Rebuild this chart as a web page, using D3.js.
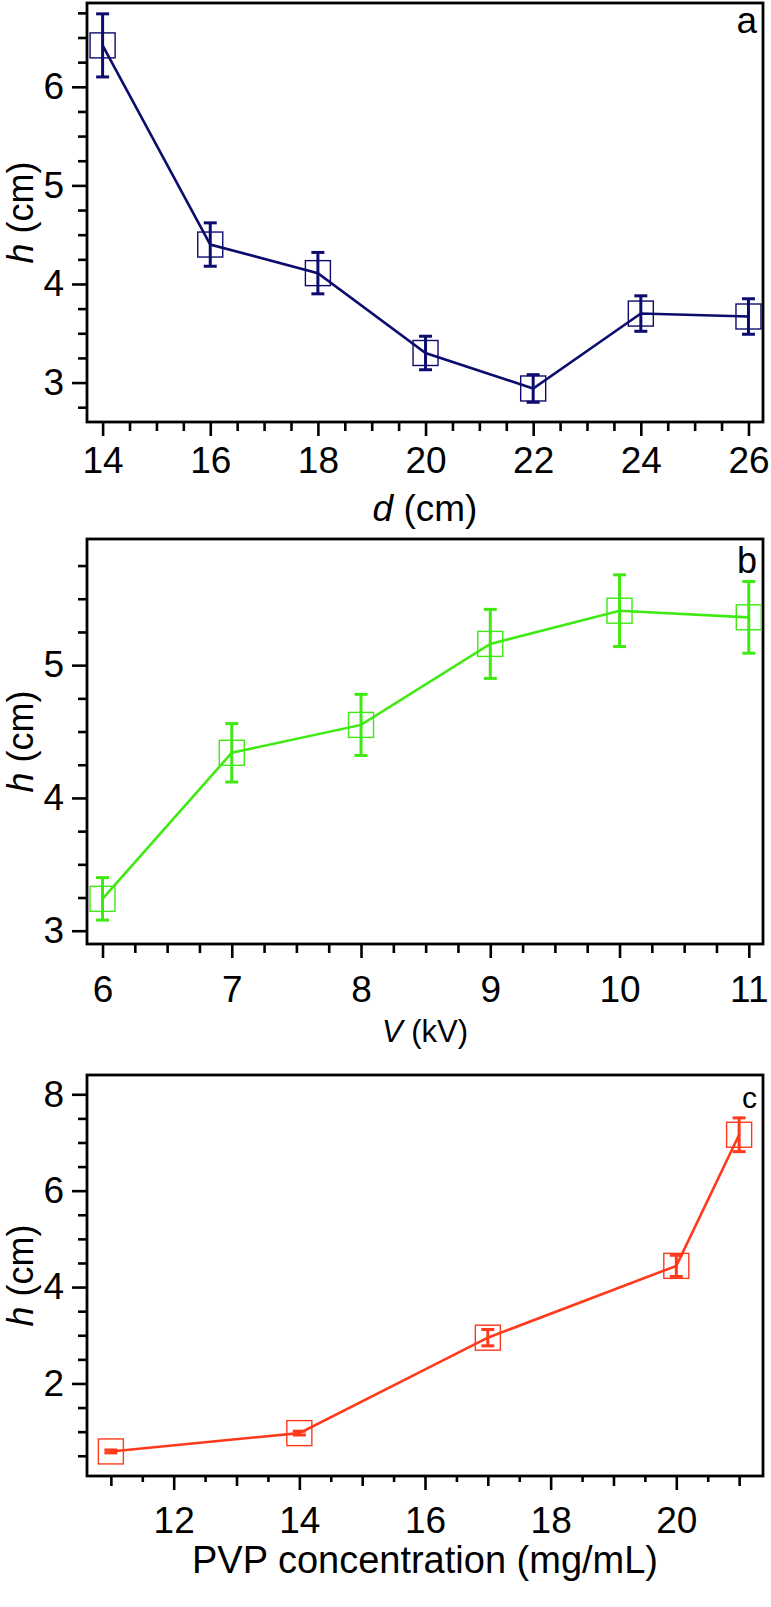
<!DOCTYPE html>
<html>
<head>
<meta charset="utf-8">
<script src="https://cdn.jsdelivr.net/npm/d3@7"></script>
<style>
  html, body { margin: 0; padding: 0; background: #fff; }
  svg { display: block; }
  text { font-family: Arial, "Liberation Sans", sans-serif; fill: #000; }
</style>
</head>
<body>
<svg id="chart" width="771" height="1607"></svg>
<script>
// ---- data ----
const distance = [14, 16, 18, 20, 22, 24, 26];
const hDistance = [6.42, 4.40, 4.11, 3.30, 2.94, 3.70, 3.67];
const errDistance = [0.32, 0.22, 0.21, 0.17, 0.14, 0.18, 0.18];

const voltage = [6, 7, 8, 9, 10, 11];
const hVoltage = [3.24, 4.34, 4.55, 5.16, 5.41, 5.36];
const errVoltage = [0.16, 0.22, 0.23, 0.26, 0.27, 0.27];

const pvp = [11, 14, 17, 20, 21];
const hPvp = [0.59, 0.97, 2.95, 4.44, 7.16];
const errPvp = [0.03, 0.04, 0.17, 0.22, 0.35];

const xTicksA = [14, 16, 18, 20, 22, 24, 26];
const yTicksA = [3, 4, 5, 6];
const xTicksB = [6, 7, 8, 9, 10, 11];
const yTicksB = [3, 4, 5];
const xTicksC = [12, 14, 16, 18, 20];
const yTicksC = [2, 4, 6, 8];

const svg = d3.select("#chart");

function range(a, b, s) { const r = []; for (let v = a; v <= b + 1e-9; v += s) r.push(+v.toFixed(4)); return r; }

function drawPanel(p) {
  const g = svg.append("g");
  const x = d3.scaleLinear().domain(p.xDomain).range([p.left, p.right]);
  const y = d3.scaleLinear().domain(p.yDomain).range([p.bottom, p.top]);

  // minor ticks x
  p.xMinorLevels.forEach(lv => {
    g.append("g").attr("transform", `translate(0,${p.bottom})`)
      .call(d3.axisBottom(x).tickValues(lv.values).tickSize(lv.size).tickFormat(""))
      .call(a => a.select(".domain").remove())
      .call(a => a.selectAll("line").attr("stroke", "#000").attr("stroke-width", 2.6));
  });
  // major ticks x with labels
  g.append("g").attr("transform", `translate(0,${p.bottom})`)
    .call(d3.axisBottom(x).tickValues(p.xTicks).tickSize(14).tickPadding(0).tickFormat(d3.format("d")))
    .call(a => a.select(".domain").remove())
    .call(a => a.selectAll("line").attr("stroke", "#000").attr("stroke-width", 2.6))
    .call(a => a.selectAll("text").attr("font-size", p.tickFont).attr("dy", null).attr("y", p.xLabelDy)
      .attr("font-family", 'Arial, "Liberation Sans", sans-serif').attr("fill", "#000"));

  // minor ticks y
  g.append("g").attr("transform", `translate(${p.left},0)`)
    .call(d3.axisLeft(y).tickValues(p.yMinor).tickSize(9).tickFormat(""))
    .call(a => a.select(".domain").remove())
    .call(a => a.selectAll("line").attr("stroke", "#000").attr("stroke-width", 2.6));
  g.append("g").attr("transform", `translate(${p.left},0)`)
    .call(d3.axisLeft(y).tickValues(p.yTicks).tickSize(15).tickPadding(8).tickFormat(d3.format("d")))
    .call(a => a.select(".domain").remove())
    .call(a => a.selectAll("line").attr("stroke", "#000").attr("stroke-width", 2.6))
    .call(a => a.selectAll("text").attr("font-size", p.tickFont)
      .attr("font-family", 'Arial, "Liberation Sans", sans-serif').attr("fill", "#000"));

  // frame
  g.append("rect").attr("x", p.left).attr("y", p.top)
    .attr("width", p.right - p.left).attr("height", p.bottom - p.top)
    .attr("fill", "none").attr("stroke", "#000").attr("stroke-width", 2.8);

  const pts = p.xs.map((v, i) => ({ x: v, y: p.ys[i], e: p.es[i] }));

  // line
  g.append("path").datum(pts)
    .attr("d", d3.line().x(d => x(d.x)).y(d => y(d.y)))
    .attr("fill", "none").attr("stroke", p.color).attr("stroke-width", 2.6);

  // markers
  const ms = 25;
  g.selectAll(".m").data(pts).enter().append("rect")
    .attr("x", d => x(d.x) - ms / 2).attr("y", d => y(d.y) - ms / 2)
    .attr("width", ms).attr("height", ms)
    .attr("fill", "none").attr("stroke", p.color).attr("stroke-width", 1.4);

  // error bars
  const cap = 6.5;
  const eb = g.selectAll(".e").data(pts).enter().append("g")
    .attr("stroke", p.color).attr("stroke-width", 3);
  eb.append("line").attr("x1", d => x(d.x)).attr("x2", d => x(d.x))
    .attr("y1", d => y(d.y + d.e)).attr("y2", d => y(d.y - d.e));
  eb.append("line").attr("x1", d => x(d.x) - cap).attr("x2", d => x(d.x) + cap)
    .attr("y1", d => y(d.y + d.e)).attr("y2", d => y(d.y + d.e));
  eb.append("line").attr("x1", d => x(d.x) - cap).attr("x2", d => x(d.x) + cap)
    .attr("y1", d => y(d.y - d.e)).attr("y2", d => y(d.y - d.e));

  // panel letter
  g.append("text").attr("x", 757).attr("y", p.top + p.letterDy)
    .attr("text-anchor", "end").attr("font-size", p.letterFont).text(p.letter);

  // x title
  const xt = g.append("text").attr("x", (p.left + p.right) / 2).attr("y", p.bottom + p.xTitleDy)
    .attr("text-anchor", "middle").attr("font-size", p.xTitleFont);
  p.xTitle.forEach(s => xt.append("tspan").attr("font-style", s.italic ? "italic" : "normal").text(s.t));

  // y title
  const cy = (p.top + p.bottom) / 2;
  const yt = g.append("text").attr("transform", `translate(33,${cy}) rotate(-90)`)
    .attr("text-anchor", "middle").attr("font-size", 36);
  yt.append("tspan").attr("font-style", "italic").text("h");
  yt.append("tspan").text(" (cm)");
}

const L = 87, R = 763;

drawPanel({
  left: L, right: R, top: 3, bottom: 422,
  xDomain: [13.71, 26.27], yDomain: [2.6, 6.85],
  xTicks: xTicksA, yTicks: yTicksA,
  xMinorLevels: [{ values: range(14, 26, 0.5).filter(v => v % 2 !== 0), size: 9 }],
  yMinor: range(2.75, 6.75, 0.25).filter(v => v % 1 !== 0),
  xs: distance, ys: hDistance, es: errDistance,
  color: "#0c0c6e", letter: "a", letterFont: 37, letterDy: 30,
  tickFont: 37, xLabelDy: 51,
  xTitle: [{ t: "d", italic: true }, { t: " (cm)" }], xTitleFont: 37, xTitleDy: 99
});

drawPanel({
  left: L, right: R, top: 539, bottom: 944,
  xDomain: [5.88, 11.11], yDomain: [2.9, 5.95],
  xTicks: xTicksB, yTicks: yTicksB,
  xMinorLevels: [{ values: range(6, 11, 0.25).filter(v => v % 1 !== 0), size: 9 }],
  yMinor: range(3, 5.75, 0.25).filter(v => v % 1 !== 0),
  xs: voltage, ys: hVoltage, es: errVoltage,
  color: "#3fea12", letter: "b", letterFont: 36, letterDy: 34,
  tickFont: 37, xLabelDy: 58,
  xTitle: [{ t: "V", italic: true }, { t: " (kV)" }], xTitleFont: 31, xTitleDy: 98
});

drawPanel({
  left: L, right: R, top: 1075, bottom: 1476,
  xDomain: [10.62, 21.38], yDomain: [0.08, 8.4],
  xTicks: xTicksC, yTicks: yTicksC,
  xMinorLevels: [
    { values: range(11, 21, 0.5).filter(v => v % 1 !== 0), size: 6 },
    { values: range(11, 21, 2), size: 10 }
  ],
  yMinor: range(0.5, 8, 0.5).filter(v => v % 2 !== 0),
  xs: pvp, ys: hPvp, es: errPvp,
  color: "#ff3a1c", letter: "c", letterFont: 30, letterDy: 33,
  tickFont: 37, xLabelDy: 57,
  xTitle: [{ t: "PVP concentration (mg/mL)" }], xTitleFont: 38, xTitleDy: 97
});
</script>
</body>
</html>
